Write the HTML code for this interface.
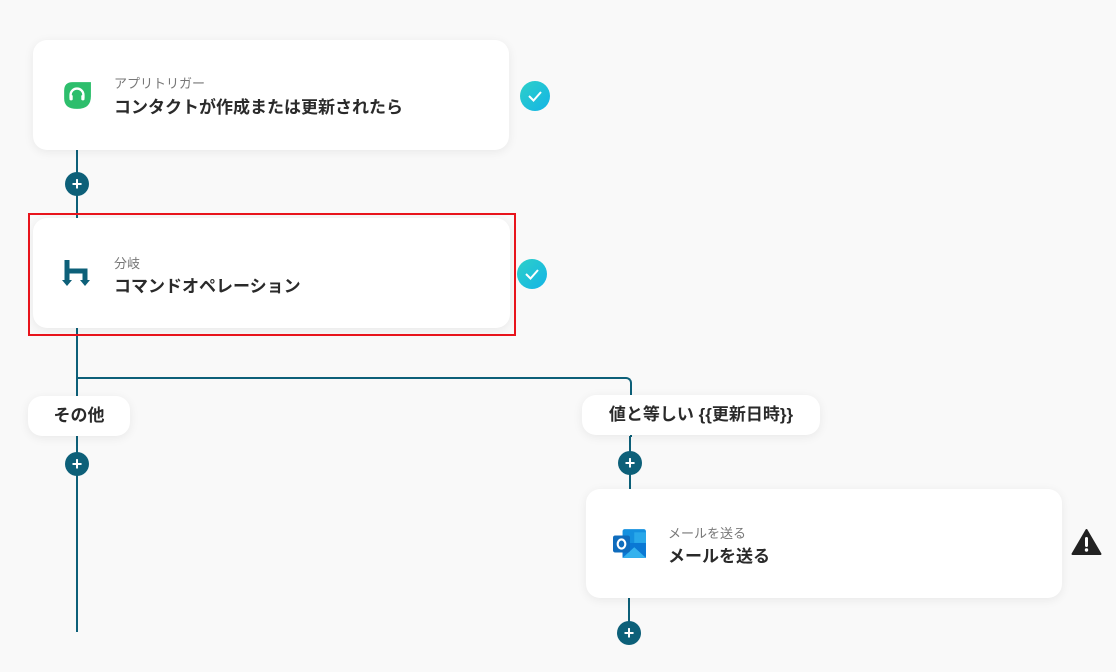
<!DOCTYPE html>
<html><head><meta charset="utf-8"><style>
*{margin:0;padding:0;box-sizing:border-box}
body{width:1116px;height:672px;background:#f9f9f9;position:relative;overflow:hidden;font-family:"Liberation Sans","Noto Sans CJK JP",sans-serif;color:#222}
.card{position:absolute;background:#fff;border-radius:14px;box-shadow:0 2px 10px rgba(0,0,0,.07)}
.sub{position:absolute;font-size:13px;color:#777}
.title{position:absolute;font-size:17px;font-weight:bold;color:#2a2a2a}
.pill{position:absolute;background:#fff;border-radius:14px;box-shadow:0 2px 10px rgba(0,0,0,.07);font-size:17px;font-weight:bold;text-align:center;line-height:40px;color:#2a2a2a}
.v{position:absolute;width:2px;background:#0d6079}
.plus{position:absolute;width:24px;height:24px;border-radius:50%;background:#0d6079;color:#fff;font-weight:bold;font-size:18px;line-height:24px;text-align:center}
.chk{position:absolute;width:30px;height:30px;border-radius:50%;background:linear-gradient(135deg,#2dd0c8,#14b4e6)}
</style></head><body>
<div class="v" style="left:76px;top:150px;height:70px"></div>
<div class="v" style="left:76px;top:328px;height:304px"></div>
<div style="position:absolute;left:76px;top:377px;width:556px;height:60px;border-top:2px solid #0d6079;border-right:2px solid #0d6079;border-top-right-radius:6px"></div>
<div class="v" style="left:629px;top:436px;height:54px"></div>
<div class="v" style="left:628px;top:598px;height:36px"></div>

<div class="card" style="left:33px;top:40px;width:476px;height:110px"></div>
<svg style="position:absolute;left:62px;top:80px" width="30" height="30" viewBox="0 0 28 28"><path d="M2 10 Q2 2 10 2 H27 V15 Q27 27 14 27 Q2 27 2 17Z" fill="#2dbe6c"/><path d="M8 17 V14 A6 6 0 0 1 20 14 V17" stroke="#fff" stroke-width="2.2" fill="none"/><rect x="7" y="14" width="3" height="5" rx="1" fill="#fff"/><rect x="18" y="14" width="3" height="5" rx="1" fill="#fff"/></svg>
<div class="sub" style="left:114px;top:73px">アプリトリガー</div>
<div class="title" style="left:114px;top:93px">コンタクトが作成または更新されたら</div>
<div class="chk" style="left:520px;top:81px"><svg width="30" height="30"><path d="M9 15 L13.5 19.5 L21 11" stroke="#fff" stroke-width="2" fill="none"/></svg></div>

<div class="plus" style="left:65px;top:172px">+</div>

<div class="card" style="left:33px;top:218px;width:477px;height:110px"></div>
<div style="position:absolute;left:28px;top:213px;width:488px;height:123px;border:2px solid #e8141c"></div>
<svg style="position:absolute;left:62px;top:259px" width="32" height="32" viewBox="0 0 32 32"><path d="M5 1 V22" stroke="#0d6079" stroke-width="5"/><path d="M5 12 H23 V22" stroke="#0d6079" stroke-width="5" fill="none"/><path d="M0 21 H10 L5 27Z M18 21 H28 L23 27Z" fill="#0d6079"/></svg>
<div class="sub" style="left:114px;top:253px">分岐</div>
<div class="title" style="left:114px;top:272px">コマンドオペレーション</div>
<div class="chk" style="left:517px;top:259px"><svg width="30" height="30"><path d="M9 15 L13.5 19.5 L21 11" stroke="#fff" stroke-width="2" fill="none"/></svg></div>

<div class="pill" style="left:28px;top:396px;width:102px">その他</div>
<div class="pill" style="left:582px;top:395px;width:238px">値と等しい {{更新日時}}</div>
<div class="plus" style="left:65px;top:452px">+</div>
<div class="plus" style="left:618px;top:451px">+</div>

<div class="card" style="left:586px;top:489px;width:476px;height:109px"></div>
<svg style="position:absolute;left:613px;top:528px" width="34" height="32" viewBox="0 0 32 30"><rect x="9" y="1" width="22" height="27" rx="2" fill="#1490df"/><rect x="20" y="4" width="11" height="10" fill="#28a8ea"/><path d="M9 14 L31 14 V28 H9Z" fill="#0a78d4"/><path d="M9 28 L20 18 L31 28Z" fill="#50d9ff" opacity=".6"/><rect x="0" y="7" width="16" height="16" rx="2" fill="#0f6cbd"/><ellipse cx="8" cy="15" rx="3.6" ry="4.3" stroke="#fff" stroke-width="2" fill="none"/></svg>
<div class="sub" style="left:668px;top:523px">メールを送る</div>
<div class="title" style="left:668px;top:542px">メールを送る</div>
<svg style="position:absolute;left:1071px;top:528px" width="31" height="28" viewBox="0 0 31 28"><path d="M15.5 2 L29.5 26 H1.5Z" fill="#222" stroke="#222" stroke-width="2" stroke-linejoin="round"/><rect x="14" y="9" width="3" height="10" rx="1.5" fill="#fff"/><circle cx="15.5" cy="22" r="1.7" fill="#fff"/></svg>
<div class="plus" style="left:617px;top:621px">+</div>
</body></html>
